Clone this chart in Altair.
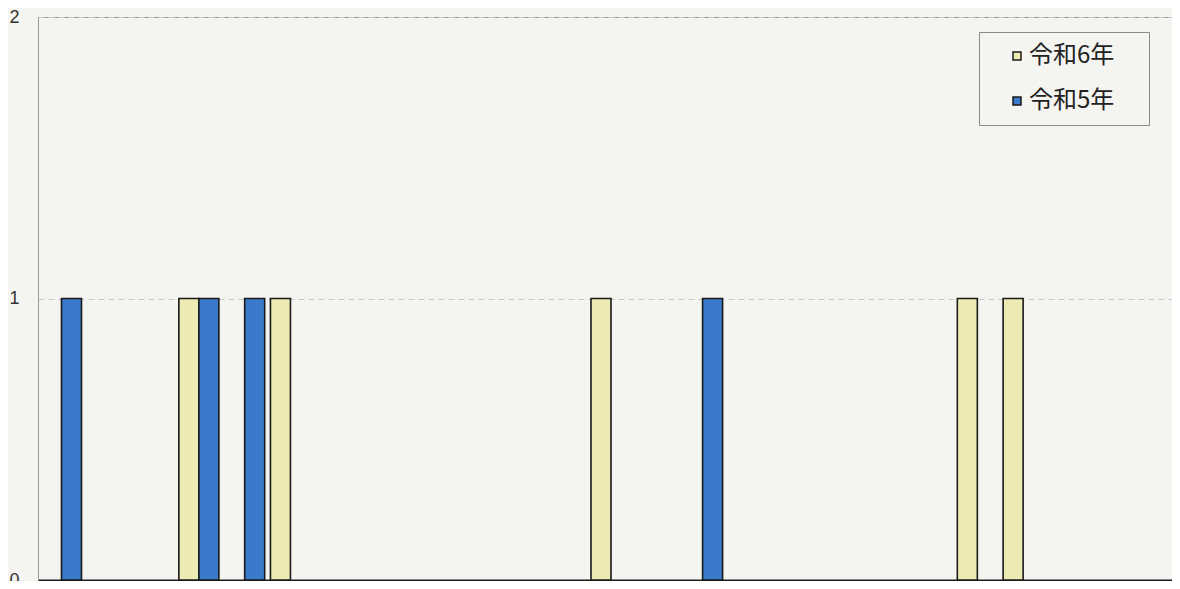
import altair as alt
import pandas as pd

categories = [str(i) for i in range(1, 26)]
series = ["令和6年", "令和5年"]
r6_values = [0, 0, 0, 1, 0, 1, 0, 0, 0, 0, 0, 0, 1, 0, 0, 0, 0, 0, 0, 0, 1, 1, 0, 0, 0]
r5_values = [1, 0, 0, 1, 1, 0, 0, 0, 0, 0, 0, 0, 0, 0, 1, 0, 0, 0, 0, 0, 0, 0, 0, 0, 0]
y_ticks = [0, 1, 2]
y_max = 2

rows = []
for c, a, b in zip(categories, r6_values, r5_values):
    rows.append({"cat": c, "series": series[0], "value": a})
    rows.append({"cat": c, "series": series[1], "value": b})
df = pd.DataFrame(rows)

bg = "#f4f4f0"

y_scale = alt.Scale(domain=[0, y_max], nice=False)
y_axis = alt.Axis(
    values=y_ticks,
    labelExpr="toString(round(datum.value))",
    title=None,
    ticks=False,
    labelOverlap=False,
    labelPadding=19,
    labelFontSize=18,
    labelFont="Liberation Sans",
    labelColor="#333333",
    grid=True,
    gridColor="#c8c8c8",
    gridDash=[6, 4],
    domainColor="#999999",
    domainWidth=1,
)

chart = (
    alt.Chart(df)
    .transform_filter("datum.value > 0")
    .mark_bar(stroke="#1a1a1a", strokeWidth=1.6)
    .encode(
        x=alt.X(
            "cat:N",
            sort=categories,
            scale=alt.Scale(domain=categories, paddingInner=0.126, paddingOuter=0.076, range=[0, 1146]),
            axis=alt.Axis(labels=False, ticks=False, title=None, domainColor="#1a1a1a", domainWidth=2),
        ),
        xOffset=alt.XOffset("series:N", scale=alt.Scale(domain=series, paddingInner=0, paddingOuter=0), sort=series),
        y=alt.Y("value:Q", scale=y_scale, axis=y_axis),
        fill=alt.Fill(
            "series:N",
            scale=alt.Scale(domain=series, range=["#ecebb4", "#3b7acb"]),
            legend=alt.Legend(
                title=" ",
                titleOrient="right",
                titlePadding=23,
                orient="none",
                legendX=941,
                legendY=15,
                symbolType="square",
                symbolSize=64,
                symbolStrokeColor="#1a1a1a",
                symbolStrokeWidth=1.5,
                symbolOffset=14,
                labelFont="Noto Sans CJK JP",
                labelFontSize=24,
                labelColor="#222222",
                labelOffset=0,
                rowPadding=21,
                padding=12,
                strokeColor="#8a8a8a",
                fillColor=bg,
            ),
        ),
    )
    .properties(
        width=1134,
        height=563,
        background=bg,
        autosize=alt.AutoSizeParams(type="none"),
        padding={"left": 30, "top": 9, "right": 0, "bottom": 1},
    )
    .configure_view(stroke="#999999", strokeWidth=1)
)

chart.save("out.html", embed_options={"renderer": "svg", "actions": False})
